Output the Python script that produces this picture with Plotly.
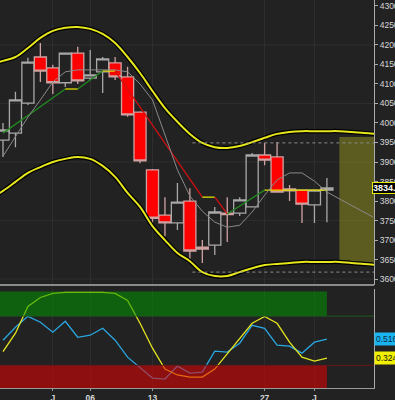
import plotly.graph_objects as go

# ---------------- data ----------------
idx = list(range(27))
opens  = [3956, 3974, 4051, 4169, 4141, 4103, 4179, 4115, 4131, 4154, 4118, 4028, 3880, 3764,
          3744, 3800, 3682, 3687, 3769, 3769, 3785, 3918, 3913, 3831, 3828, 3790, 3828]
highs  = [4000, 4080, 4167, 4205, 4149, 4180, 4195, 4187, 4169, 4169, 4144, 4030, 3882, 3810,
          3846, 3833, 3700, 3785, 3810, 3810, 3923, 3949, 3951, 3841, 3828, 3828, 3859]
lows   = [3913, 3938, 4046, 4105, 4074, 4092, 4100, 4110, 4077, 4110, 4016, 3897, 3744, 3710,
          3726, 3644, 3641, 3662, 3695, 3762, 3785, 3892, 3823, 3800, 3744, 3744, 3746]
closes = [3982, 4059, 4156, 4133, 4103, 4179, 4108, 4123, 4164, 4118, 4021, 3903, 3756, 3744,
          3797, 3672, 3677, 3772, 3765, 3803, 3918, 3905, 3823, 3826, 3792, 3828, 3834]

band_x = list(range(-1, 31))
band_upper = [4151, 4159, 4169, 4192, 4218, 4236, 4244, 4246, 4241, 4228, 4205, 4169, 4128, 4082,
              4038, 4003, 3972, 3949, 3938, 3936, 3941, 3951, 3962, 3972, 3977, 3979, 3979, 3979,
              3979, 3977, 3974, 3972]
band_lower = [3805, 3826, 3849, 3872, 3887, 3900, 3908, 3913, 3908, 3890, 3862, 3821, 3785, 3736,
              3700, 3667, 3646, 3618, 3608, 3608, 3618, 3628, 3636, 3639, 3641, 3644, 3644, 3644,
              3644, 3641, 3639, 3636]

ma_values = [3915, 3964, 4015, 4059, 4105, 4131, 4136, 4136, 4136, 4136, 4131, 4100, 4059, 3969,
             3880, 3813, 3774, 3746, 3733, 3738, 3772, 3815, 3854, 3872, 3872, 3851, 3823]
ma_proj_x = [26, 29.7]
ma_proj = [3823, 3759]

trend_x = [0, 5, 6, 8, 9, 16, 17, 18, 21, 26]
trend_y = [3974, 4087, 4087, 4133, 4133, 3810, 3810, 3767, 3828, 3828]
trend_colors = ["#1f8a1f", "#e0e000", "#1f8a1f", "#e0e000", "#d01010",
                "#e0e000", "#d01010", "#1f8a1f", "#e0e000"]

resistance_level = 3949
support_level = 3618
level_start = 15.2

proj_x0 = 27
proj_high = 3964
proj_low = 3641

last_price = 3834

osc_blue = [0.505, 0.636, 0.747, 0.687, 0.586, 0.697, 0.535, 0.556, 0.626, 0.505, 0.333, 0.222,
            0.121, 0.111, 0.242, 0.172, 0.182, 0.394, 0.384, 0.475, 0.657, 0.626, 0.455, 0.444,
            0.374, 0.485, 0.516]
osc_yellow = [0.390, 0.576, 0.848, 0.939, 0.980, 0.990, 0.990, 0.990, 0.990, 0.980, 0.909, 0.677,
              0.424, 0.212, 0.152, 0.131, 0.131, 0.212, 0.364, 0.525, 0.677, 0.747, 0.677, 0.485,
              0.333, 0.293, 0.324]
osc_high_zone = 0.75
osc_low_zone = 0.25

price_ticks = [3600, 3650, 3700, 3750, 3800, 3850, 3900, 3950, 4000, 4050, 4100, 4150, 4200, 4250, 4300]
price_tick_labels = ["3600.00", "3650.00", "3700.00", "3750.00", "3800.00", "3850.00", "3900.00",
                     "3950.00", "4000.00", "4050.00", "4100.00", "4150.00", "4200.00", "4250.00",
                     "4300.00"]
grid_levels = [3600, 3750, 3900, 4050, 4200]
date_ticks = [4, 7, 12, 21, 25]
date_labels = ["J", "06", "13", "27", "J"]

BG = "#222222"
GRID = "#2e2e2e"
XR = [-0.24, 29.78]

fig = go.Figure()

# trend (stop) line segments
for i, c in enumerate(trend_colors):
    fig.add_trace(go.Scatter(x=trend_x[i:i + 2], y=trend_y[i:i + 2], mode="lines",
                             line=dict(color=c, width=1.3), xaxis="x", yaxis="y",
                             hoverinfo="skip"))

# moving average
fig.add_trace(go.Scatter(x=idx, y=ma_values, mode="lines",
                         line=dict(color="#8a8a8a", width=1), xaxis="x", yaxis="y"))
fig.add_trace(go.Scatter(x=ma_proj_x, y=ma_proj, mode="lines",
                         line=dict(color="#8a8a8a", width=1), xaxis="x", yaxis="y"))

# candles
fig.add_trace(go.Candlestick(
    x=idx, open=opens, high=highs, low=lows, close=closes,
    increasing=dict(line=dict(color="#a8a8a8", width=1.3), fillcolor="rgba(0,0,0,0)"),
    decreasing=dict(line=dict(color="#cfa2a2", width=1.3), fillcolor="#ff0000"),
    whiskerwidth=0, xaxis="x", yaxis="y"))

# envelope bands with dark outline
for band in (band_upper, band_lower):
    fig.add_trace(go.Scatter(x=band_x, y=band, mode="lines", line=dict(color="#000000", width=4.5),
                             line_shape="spline", xaxis="x", yaxis="y"))
    fig.add_trace(go.Scatter(x=band_x, y=band, mode="lines", line=dict(color="#e6e61c", width=2),
                             line_shape="spline", xaxis="x", yaxis="y"))

# dotted levels
for lvl in (resistance_level, support_level):
    fig.add_trace(go.Scatter(x=[level_start, XR[1]], y=[lvl, lvl], mode="lines",
                             line=dict(color="#8c8c8c", width=1, dash="dot"),
                             xaxis="x", yaxis="y"))

# oscillator
fig.add_trace(go.Scatter(x=idx, y=osc_blue, mode="lines", line=dict(color="#2aa6e0", width=1.3),
                         xaxis="x2", yaxis="y2"))
fig.add_trace(go.Scatter(x=idx, y=osc_yellow, mode="lines", line=dict(color="#e4e420", width=1.3),
                         xaxis="x2", yaxis="y2"))

shapes = []
for g in grid_levels:
    shapes.append(dict(type="line", xref="x", yref="y", x0=XR[0], x1=XR[1], y0=g, y1=g,
                       line=dict(color=GRID, width=1), layer="below"))
shapes.append(dict(type="rect", xref="x", yref="y", x0=proj_x0, x1=XR[1], y0=proj_low, y1=proj_high,
                   fillcolor="rgba(150,150,30,0.5)", line=dict(width=0), layer="below"))
# oscillator zones (translucent, above lines)
shapes.append(dict(type="rect", xref="x2", yref="y2", x0=XR[0], x1=idx[-1], y0=osc_high_zone, y1=1.0,
                   fillcolor="rgba(0,150,0,0.55)", line=dict(width=0), layer="above"))
shapes.append(dict(type="rect", xref="x2", yref="y2", x0=XR[0], x1=idx[-1], y0=0.0, y1=osc_low_zone,
                   fillcolor="rgba(230,0,0,0.55)", line=dict(width=0), layer="above"))
shapes.append(dict(type="line", xref="x2", yref="y2", x0=XR[0], x1=XR[1], y0=osc_high_zone,
                   y1=osc_high_zone, line=dict(color="#1d5a1d", width=1)))
shapes.append(dict(type="line", xref="x2", yref="y2", x0=XR[0], x1=XR[1], y0=osc_low_zone,
                   y1=osc_low_zone, line=dict(color="#6a1818", width=1)))
# panel separator
shapes.append(dict(type="line", xref="paper", yref="paper", x0=0, x1=1, y0=0.2655, y1=0.2655,
                   line=dict(color="#8a8a8a", width=2)))

annotations = [
    dict(x=1, xref="paper", y=last_price, yref="y", xanchor="left", yanchor="middle",
         text="<b>%d.00</b>" % last_price, showarrow=False, xshift=-2,
         font=dict(color="#ffffff", size=9, family="Liberation Sans"),
         bgcolor="#000000", bordercolor="#e8e800", borderwidth=1, borderpad=0),
    dict(x=1, xref="paper", y=osc_blue[-1], yref="y2", xanchor="left", yanchor="middle",
         text="%.3f" % osc_blue[-1], showarrow=False, xshift=0,
         font=dict(color="#0a2a4a", size=8.5, family="Liberation Sans"),
         bgcolor="#1ab4f0", borderpad=1),
    dict(x=1, xref="paper", y=osc_yellow[-1], yref="y2", xanchor="left", yanchor="middle",
         text="%.3f" % osc_yellow[-1], showarrow=False, xshift=0,
         font=dict(color="#111111", size=8.5, family="Liberation Sans"),
         bgcolor="#f0f000", borderpad=1),
]

fig.update_layout(
    width=395, height=400,
    margin=dict(l=0, r=21, t=0, b=12, autoexpand=False),
    paper_bgcolor=BG, plot_bgcolor=BG,
    showlegend=False,
    boxgap=0.03, boxgroupgap=0,
    shapes=shapes, annotations=annotations,
    xaxis=dict(domain=[0, 1], range=XR, anchor="y", tickvals=date_ticks, showticklabels=False,
               ticks="", showgrid=True, gridcolor=GRID, zeroline=False, automargin=False,
               rangeslider=dict(visible=False)),
    xaxis2=dict(domain=[0, 1], range=XR, anchor="y2", matches="x", tickvals=date_ticks,
                ticktext=date_labels, ticks="outside", ticklen=2, tickcolor="#999999",
                showline=True, linecolor="#999999", linewidth=1, showgrid=True, gridcolor=GRID,
                zeroline=False, automargin=False, showticklabels=True, ticklabelstandoff=0,
                tickfont=dict(size=8.5, color="#d8d8d8", family="Liberation Sans", weight="bold")),
    yaxis=dict(domain=[0.2655, 1], range=[3585, 4315], side="right", anchor="x",
               tickvals=price_ticks, ticktext=price_tick_labels, ticks="outside", ticklen=3,
               tickcolor="#aaaaaa", showline=True, linecolor="#aaaaaa", linewidth=1,
               showgrid=False, zeroline=False, automargin=False,
               tickfont=dict(size=8.5, color="#d8d8d8", family="Liberation Sans")),
    yaxis2=dict(domain=[0, 0.2539], range=[0.02, 1.02], side="right", anchor="x2",
                showticklabels=False, ticks="", showline=True, linecolor="#aaaaaa", linewidth=1,
                showgrid=False, zeroline=False, automargin=False),
)

fig.write_html("out.html", config={"displayModeBar": False},
               post_script="document.body.style.margin='0px';document.body.style.background='#222222';")
